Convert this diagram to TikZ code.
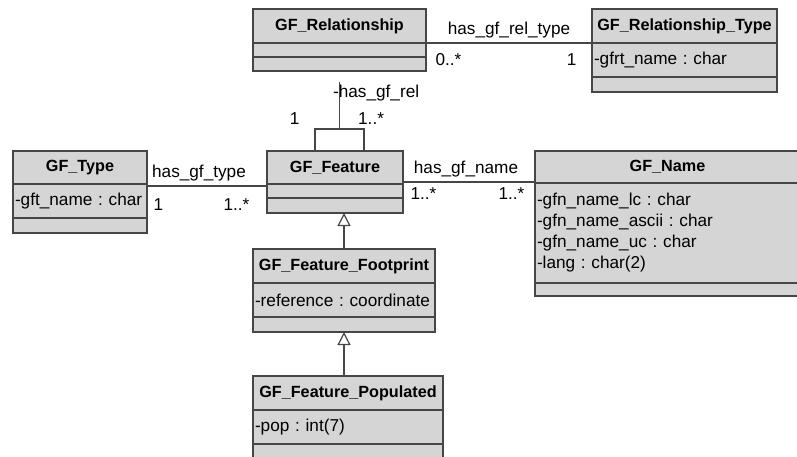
\documentclass[tikz,border=0pt]{standalone}
\usepackage{fontspec}
\setmainfont{Liberation Sans}
\usetikzlibrary{positioning, arrows.meta}

\definecolor{umlfill}{RGB}{213,213,213}
\definecolor{umlline}{RGB}{70,70,70}

\begin{document}
\begin{tikzpicture}[
                x = 1pt, y = -1pt, % pixel units, y grows downwards
                line width = 1.3pt, % line style
                cls/.style = {draw = umlline, fill = umlfill, inner sep = 0pt,
                outer sep = 0pt},
                head/.style = {cls, anchor = north west,
                font = \fontsize{16.2}{20}\selectfont\bfseries},
                attr/.style = {cls, align = left, inner xsep = 2pt,
                font = \fontsize{17.2}{21}\selectfont\frenchspacing},
                assoc/.style = {draw = umlline, line width = 1.2pt},
                gen/.style = {assoc, -{Triangle[open, width = 13pt, length = 13pt]}},
                mult/.style = {inner sep = 0pt,
                font = \fontsize{17.2}{21}\selectfont\frenchspacing}
            ]

            \useasboundingbox (0,0) rectangle (797,457);
            \clip (0,0) rectangle (797,457);

            % classes: header, attributes, operations
            \node (rel) [head, minimum width = 173, minimum height = 34] at (253,9)
            {GF\_Relationship}; \node (rel-a) [attr, text width = 169, minimum
            height = 14, below = 0pt of rel] {}; \node (rel-o) [attr, text width =
            169, minimum height = 14, below = 0pt of rel-a] {};

            \node (reltype) [head, minimum width = 185, minimum height = 34] at
            (592,9) {GF\_Relationship\_Type}; \node (reltype-a) [attr, text width =
            181, minimum height = 34, below = 0pt of reltype] {-gfrt\_name : char};
            \node (reltype-o) [attr, text width = 181, minimum height = 15, below =
            0pt of reltype-a] {};

            \node (type) [head, minimum width = 134, minimum height = 33] at (13,151)
            {GF\_Type}; \node (type-a) [attr, text width = 130, minimum height = 34,
            below = 0pt of type] {-gft\_name : char}; \node (type-o) [attr, text
            width = 130, minimum height = 15, below = 0pt of type-a] {};

            \node (feat) [head, minimum width = 136, minimum height = 33] at (267,151)
            {GF\_Feature}; \node (feat-a) [attr, text width = 132, minimum height =
            14, below = 0pt of feat] {}; \node (feat-o) [attr, text width = 132,
            minimum height = 15, below = 0pt of feat-a] {};

            \node (name) [head, minimum width = 265, minimum height = 32] at (535,151)
            {GF\_Name}; \node (name-a) [attr, text width = 261, minimum height = 100,
            below = 0pt of name] {-gfn\_name\_lc : char\\-gfn\_name\_ascii :
            char\\-gfn\_name\_uc : char\\-lang : char(2)}; \node (name-o) [attr, text
            width = 261, minimum height = 13, below = 0pt of name-a] {};

            \node (foot) [head, minimum width = 182, minimum height = 34] at (253,249)
            {GF\_Feature\_Footprint}; \node (foot-a) [attr, text width = 178, minimum
            height = 34, below = 0pt of foot] {-reference : coordinate}; \node
            (foot-o) [attr, text width = 178, minimum height = 15, below = 0pt of
            foot-a] {};

            \node (pop) [head, minimum width = 190, minimum height = 34] at (253,376)
            {GF\_Feature\_Populated}; \node (pop-a) [attr, text width = 186, minimum
            height = 34, below = 0pt of pop] {-pop : int(7)}; \node (pop-o) [attr,
            text width = 186, minimum height = 20, below = 0pt of pop-a] {};

            % associations
            \draw[assoc] (rel.south east) -- (reltype.south west)
            node[mult, midway, above = 4pt] {has\_gf\_rel\_type}
            node[mult, at start, anchor = north west, xshift = 9pt, yshift = -10pt] {0..*}
            node[mult, at end, anchor = north east, xshift = -15pt, yshift = -10pt] {1};

            \draw[assoc] ([yshift = -2pt]type.south east) -- ([yshift = -2pt]feat.south west)
            node[mult, midway, above = 4pt, xshift = -8pt] {has\_gf\_type}
            node[mult, at start, anchor = north west, xshift = 6pt, yshift = -12pt] {1}
            node[mult, at end, anchor = north east, xshift = -17pt, yshift = -12pt] {1..*};

            \draw[assoc] ([yshift = 2pt]feat.south east) -- ([yshift = 1pt]name.south west)
            node[mult, midway, above = 4pt, xshift = -3pt] {has\_gf\_name}
            node[mult, at start, anchor = north west, xshift = 7pt, yshift = -5pt] {1..*}
            node[mult, at end, anchor = north east, xshift = -10pt, yshift = -5pt] {1..*};

            % self association
            \draw[assoc] ([xshift = -20pt]feat.north) -- ++(0,-22) coordinate (loopl)
            -- coordinate[midway] (loopmid) ([xshift = 29pt, yshift = 22pt]feat.north)
            -- ([xshift = 29pt]feat.north);
            \draw[assoc] (loopmid) -- ++(0,-47) coordinate (relname)
            node[mult, pos = 0.766, anchor = west, xshift = -7pt] {-has\_gf\_rel};
            \node (loopm1) [mult, anchor = south east, xshift = -15pt, yshift = 4pt]
            at (loopl) {1}; \node (loopm2) [mult, anchor = south west, xshift = 18pt,
            yshift = 4pt] at (loopmid) {1..*};

            % generalisations
            \draw[gen] (foot.north) -- (foot.north |- feat-o.south);
            \draw[gen] (foot-o.south |- pop.north) -- (foot-o.south);

        \end{tikzpicture}
\end{document}
